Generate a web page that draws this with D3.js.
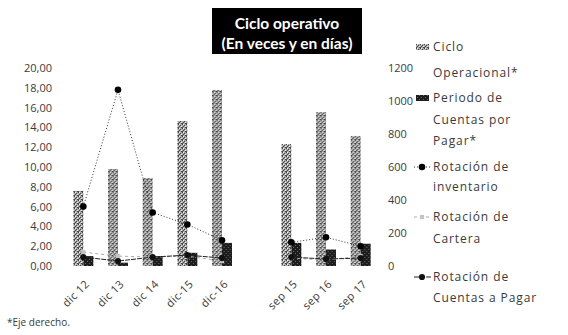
<!DOCTYPE html>
<html lang="es">
    <head>
        <meta charset="UTF-8" />
        <title>Ciclo operativo</title>
        <style>
            body {
                margin: 0;
                background: #fff;
            }
            svg {
                display: block;
            }
            .tick-text {
                font: 11px "Open Sans", sans-serif;
                fill: #3a3a3a;
            }
            .cat-text {
                font: 11px "Open Sans", sans-serif;
                fill: #3a3a3a;
                letter-spacing: 0.4px;
            }
            .legend-text {
                font: 12px "Open Sans", sans-serif;
                fill: #3a3a3a;
                letter-spacing: 0.9px;
            }
            .title {
                font: bold 15.5px Lato, sans-serif;
                fill: #fff;
            }
            .note {
                font: 10px "Open Sans", sans-serif;
                fill: #3a3a3a;
            }
        </style>
    </head>
    <body>
        <script src="https://cdnjs.cloudflare.com/ajax/libs/d3/7.9.0/d3.min.js"></script>
        <svg width="568" height="335"></svg>
        <script>
            // categories (empty slot separates the two groups)
            const categories = ["dic 12", "dic 13", "dic 14", "dic-15", "dic-16", "", "sep 15", "sep 16", "sep 17"];

            // bars, right axis (days)
            const cicloOperacional = [455, 588, 533, 879, 1067, null, 739, 933, 788];
            const periodoCxP = [60, 20, 60, 80, 140, null, 140, 100, 135];

            // lines, left axis (times)
            const rotInventario = [6.0, 17.8, 5.4, 4.2, 2.6, null, 2.4, 2.9, 2.0];
            const rotCartera = [1.4, 1.0, 0.9, 1.0, 0.5, null, 0.8, 0.6, 1.0];
            const rotCxP = [0.9, 0.5, 0.9, 1.1, 0.8, null, 0.9, 0.7, 0.8];

            const leftTicks = [0, 2, 4, 6, 8, 10, 12, 14, 16, 18, 20];
            const rightTicks = [0, 200, 400, 600, 800, 1000, 1200];

            const svg = d3.select("svg");
            const fmtLeft = (v) => v.toFixed(2).replace(".", ",");

            // textures for the scanned-looking bars
            const defs = svg.append("defs");
            const light = defs.append("pattern").attr("id", "lightFill").attr("width", 4).attr("height", 4).attr("patternUnits", "userSpaceOnUse");
            light.append("rect").attr("width", 4).attr("height", 4).attr("fill", "#ababab");
            [[0, 0], [2, 1], [1, 2], [3, 3], [0, 3]].forEach(([px, py]) => light.append("rect").attr("x", px).attr("y", py).attr("width", 1).attr("height", 1).attr("fill", "#444"));
            [[1, 0], [3, 2]].forEach(([px, py]) => light.append("rect").attr("x", px).attr("y", py).attr("width", 1).attr("height", 1).attr("fill", "#eee"));
            const dark = defs.append("pattern").attr("id", "darkFill").attr("width", 4).attr("height", 4).attr("patternUnits", "userSpaceOnUse");
            dark.append("rect").attr("width", 4).attr("height", 4).attr("fill", "#1c1c1c");
            [[1, 1], [3, 3]].forEach(([px, py]) => dark.append("rect").attr("x", px).attr("y", py).attr("width", 1).attr("height", 1).attr("fill", "#6a6a6a"));

            const x = d3.scaleBand().domain(categories).range([66, 378]);
            const x1 = d3
                .scaleBand()
                .domain(["ciclo", "periodo"])
                .range([x.bandwidth() / 2 - 10, x.bandwidth() / 2 + 10]);
            const yL = d3.scaleLinear().domain([0, 20]).range([266, 68]);
            const yR = d3.scaleLinear().domain([0, 1200]).range([266, 68]);

            // title box
            svg.append("rect").attr("x", 212).attr("y", 8).attr("width", 150).attr("height", 46).attr("fill", "#000");
            svg.append("text").attr("class", "title").attr("x", 287).attr("y", 29).attr("text-anchor", "middle").text("Ciclo operativo");
            svg.append("text").attr("class", "title").attr("x", 287).attr("y", 49).attr("text-anchor", "middle").text("(En veces y en días)");

            // left axis
            const axL = svg
                .append("g")
                .attr("transform", "translate(56,0)")
                .call(d3.axisLeft(yL).tickValues(leftTicks).tickFormat(fmtLeft).tickSize(0).tickPadding(4));
            axL.select(".domain").remove();
            axL.selectAll("text").attr("class", "tick-text").attr("font-family", null).attr("font-size", null);

            // right axis
            const axR = svg
                .append("g")
                .attr("transform", "translate(384,0)")
                .call(d3.axisRight(yR).tickValues(rightTicks).tickFormat(d3.format("d")).tickSize(0).tickPadding(4));
            axR.select(".domain").remove();
            axR.selectAll("text").attr("class", "tick-text").attr("font-family", null).attr("font-size", null);

            // category labels
            const axB = svg
                .append("g")
                .attr("transform", "translate(0,270)")
                .call(d3.axisBottom(x).tickSize(0).tickPadding(0));
            axB.select(".domain").remove();
            axB.selectAll("text")
                .attr("class", "cat-text")
                .attr("font-family", null)
                .attr("font-size", null)
                .attr("text-anchor", "end")
                .attr("y", 0)
                .attr("dy", "0.35em")
                .attr("transform", "translate(4,12) rotate(-45)");

            // bars
            const barData = categories.map((c, i) => ({ c, ciclo: cicloOperacional[i], periodo: periodoCxP[i] })).filter((d) => d.ciclo !== null);
            const groups = svg
                .append("g")
                .selectAll("g")
                .data(barData)
                .join("g")
                .attr("transform", (d) => `translate(${x(d.c)},0)`);
            groups
                .append("rect")
                .attr("x", x1("ciclo"))
                .attr("width", x1.bandwidth())
                .attr("y", (d) => yR(d.ciclo))
                .attr("height", (d) => yR(0) - yR(d.ciclo))
                .attr("fill", "url(#lightFill)");
            groups
                .append("rect")
                .attr("x", x1("periodo"))
                .attr("width", x1.bandwidth())
                .attr("y", (d) => yR(d.periodo))
                .attr("height", (d) => yR(0) - yR(d.periodo))
                .attr("fill", "url(#darkFill)");

            // lines
            const cx = (i) => x(categories[i]) + x.bandwidth() / 2;
            const line = d3
                .line()
                .defined((d) => d !== null)
                .x((d, i) => cx(i))
                .y((d) => yL(d));

            const series = [
                { values: rotCartera, stroke: "#aaa", dash: "3,3", marker: d3.symbolSquare, size: 18, color: "#c4c4c4" },
                { values: rotCxP, stroke: "#222", dash: "5,1", marker: d3.symbolCircle, size: 30, color: "#111" },
                { values: rotInventario, stroke: "#333", dash: "1,2", marker: d3.symbolCircle, size: 34, color: "#000" },
            ];

            series.forEach((s) => {
                svg.append("path").attr("d", line(s.values)).attr("fill", "none").attr("stroke", s.stroke).attr("stroke-width", 1).attr("stroke-dasharray", s.dash);
                svg.append("g")
                    .selectAll("path")
                    .data(s.values.map((v, i) => ({ v, i })).filter((d) => d.v !== null))
                    .join("path")
                    .attr("transform", (d) => `translate(${cx(d.i)},${yL(d.v)})`)
                    .attr("d", d3.symbol(s.marker, s.size))
                    .attr("fill", s.color);
            });

            // legend
            const legend = [
                { lines: ["Ciclo", "Operacional*"], y: 47, kind: "bar", fill: "url(#lightFill)", gaps: [0, 26] },
                { lines: ["Periodo de", "Cuentas por", "Pagar*"], y: 98, kind: "bar", fill: "url(#darkFill)", gaps: [0, 22, 43] },
                { lines: ["Rotación de", "inventario"], y: 167, kind: "line", s: series[2], gaps: [0, 20] },
                { lines: ["Rotación de", "Cartera"], y: 217, kind: "line", s: series[0], gaps: [0, 22] },
                { lines: ["Rotación de", "Cuentas a Pagar"], y: 277, kind: "line", s: series[1], gaps: [0, 21] },
            ];
            const lg = svg.append("g");
            legend.forEach((l) => {
                if (l.kind === "bar") {
                    lg.append("rect").attr("x", 416).attr("y", l.y - 3).attr("width", 13).attr("height", 6).attr("fill", l.fill);
                } else {
                    lg.append("line").attr("x1", 414).attr("x2", 431).attr("y1", l.y).attr("y2", l.y).attr("stroke", l.s.stroke).attr("stroke-dasharray", l.s.dash);
                    lg.append("path")
                        .attr("transform", `translate(${422},${l.y})`)
                        .attr("d", d3.symbol(l.s.marker, l.s.size))
                        .attr("fill", l.s.color);
                }
                l.lines.forEach((t, k) => {
                    lg.append("text").attr("class", "legend-text").attr("x", 433).attr("y", l.y + l.gaps[k]).attr("dy", "0.35em").text(t);
                });
            });

            // footnote
            svg.append("text").attr("class", "note").attr("x", 7).attr("y", 326).text("*Eje derecho.");
        </script>
    </body>
</html>
